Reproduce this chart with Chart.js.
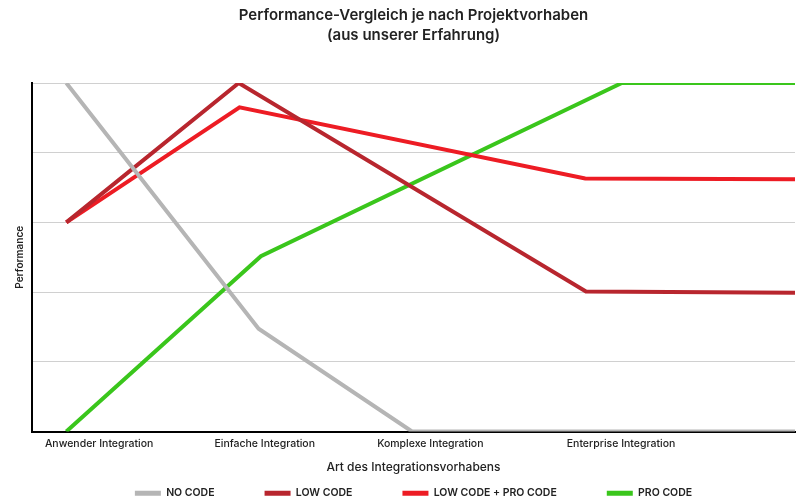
<!DOCTYPE html>
<html>
<head>
<meta charset="utf-8">
<script src="https://cdn.jsdelivr.net/npm/chart.js@4"></script>
<style>
  body { margin: 0; background: #fff; }
  #wrap { width: 800px; height: 499px; position: relative; }
</style>
</head>
<body>
<div id="wrap"><canvas id="perfChart"></canvas></div>
<script>
  // Werte (x: 0..100 Achsenbreite, y: 0..100 Performance)
  const seriesNames = ["NO CODE", "LOW CODE", "LOW CODE + PRO CODE", "PRO CODE"];
  const seriesColors = ["#b5b5b5", "#b8262e", "#ed1c24", "#3ac61c"];

  const noCodeX = [4.5, 29.7, 49.8, 100];
  const noCodeY = [100, 29.5, 0, 0];
  const lowCodeX = [4.5, 27.1, 72.6, 100];
  const lowCodeY = [60, 100, 40.2, 39.8];
  const lowProX = [4.5, 27.2, 72.5, 100];
  const lowProY = [60, 93, 72.6, 72.4];
  const proCodeX = [4.5, 30, 77.3, 100];
  const proCodeY = [0, 50.3, 100, 100];

  const tickLabels = [
    "Anwender Integration",
    "Einfache Integration",
    "Komplexe Integration",
    "Enterprise Integration",
  ];
  const tickValues = [8.8, 30.5, 52.2, 77.2];

  const xs = [noCodeX, lowCodeX, lowProX, proCodeX];
  const ys = [noCodeY, lowCodeY, lowProY, proCodeY];

  const font = "Inter";

  new Chart(document.getElementById("perfChart"), {
    type: "line",
    data: {
      datasets: seriesNames.map((name, i) => ({
        label: name,
        data: xs[i].map((x, j) => ({ x: x, y: ys[i][j] })),
        borderColor: seriesColors[i],
        backgroundColor: seriesColors[i],
        borderWidth: 4,
        pointRadius: 0,
        tension: 0,
      })),
    },
    options: {
      responsive: true,
      maintainAspectRatio: false,
      animation: false,
      layout: { padding: { left: 0, right: 5, top: 0, bottom: -9.5 } },
      plugins: {
        title: {
          display: true,
          fullSize: false,
          text: ["Performance-Vergleich je nach Projektvorhaben", "(aus unserer Erfahrung)"],
          color: "#222",
          font: { family: font, size: 15, weight: "600", lineHeight: 1.3 },
          padding: { top: 6, bottom: 38 },
        },
        legend: {
          position: "bottom",
          fullSize: false,
          labels: {
            boxWidth: 26,
            boxHeight: 5,
            padding: 50,
            color: "#222",
            font: { family: font, size: 10.5, weight: "600" },
            generateLabels: function (chart) {
              const items = Chart.defaults.plugins.legend.labels.generateLabels(chart);
              items.forEach((it) => {
                it.lineWidth = 0;
                it.fillStyle = it.strokeStyle;
              });
              return items;
            },
          },
        },
        tooltip: { enabled: false },
      },
      scales: {
        x: {
          type: "linear",
          min: 0,
          max: 100,
          grid: { display: false, drawTicks: false },
          border: { color: "#000", width: 2 },
          afterBuildTicks: function (scale) {
            scale.ticks = tickValues.map((v) => ({ value: v }));
          },
          afterFit: function (scale) {
            scale.height = 6.5;
          },
          ticks: {
            autoSkip: false,
            maxRotation: 0,
            mirror: true,
            padding: -19,
            color: "#222",
            font: { family: font, size: 10.5, weight: "500" },
            callback: function (value, index) {
              return tickLabels[index];
            },
          },
          title: {
            display: true,
            text: "Art des Integrationsvorhabens",
            color: "#222",
            font: { family: font, size: 12, weight: "500" },
            padding: { top: 0, bottom: -36.7 },
          },
        },
        y: {
          min: 0,
          max: 100,
          ticks: { display: false, stepSize: 20 },
          grid: {
            drawTicks: false,
            lineWidth: 1,
            color: (ctx) => (ctx.tick && ctx.tick.value === 0 ? "rgba(0,0,0,0)" : "#d0d0d0"),
          },
          border: { color: "#000", width: 2 },
          afterFit: function (scale) {
            scale.width = 32;
          },
          title: {
            display: true,
            text: "Performance",
            color: "#222",
            font: { family: font, size: 10, weight: "600" },
            padding: { top: 14, bottom: 0 },
          },
        },
      },
    },
  });
</script>
</body>
</html>
